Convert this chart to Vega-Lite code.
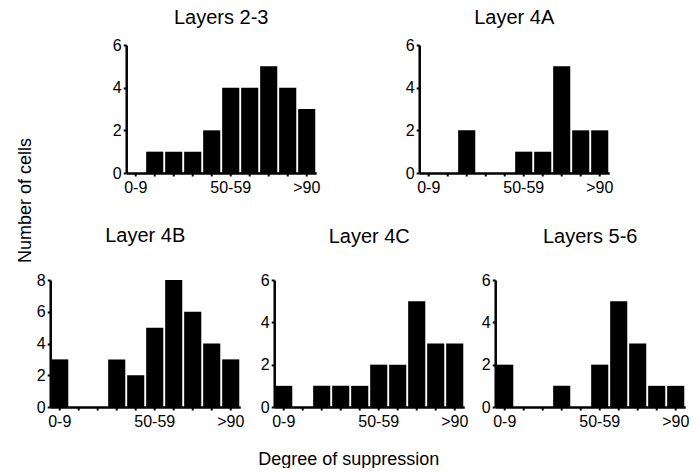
{
  "$schema": "https://vega.github.io/schema/vega-lite/v6.json",
  "padding": {"left": 8, "top": 8, "right": 0, "bottom": 0},
  "background": "white",
  "config": {
    "font": "Liberation Sans",
    "view": {"stroke": null},
    "axis": {"grid": false, "minExtent": 0, "domainColor": "black", "domainWidth": 2.5, "tickColor": "black", "tickWidth": 2, "tickSize": 3, "labelColor": "black", "labelFontSize": 16, "labelFont": "Liberation Sans", "titleFontSize": 18, "titleColor": "black", "titleFontWeight": "normal", "titleFont": "Liberation Sans", "labelPadding": 2},
    "axisX": {"labelAngle": 0, "labelPadding": 3},
    "title": {"fontSize": 20, "fontWeight": "normal", "color": "black", "font": "Liberation Sans"},
    "bar": {"color": "black"}
  },
  "data": {"values": [
    {"panel": "Layers 2-3", "bin": "0-9", "count": 0},
    {"panel": "Layers 2-3", "bin": "10-19", "count": 1},
    {"panel": "Layers 2-3", "bin": "20-29", "count": 1},
    {"panel": "Layers 2-3", "bin": "30-39", "count": 1},
    {"panel": "Layers 2-3", "bin": "40-49", "count": 2},
    {"panel": "Layers 2-3", "bin": "50-59", "count": 4},
    {"panel": "Layers 2-3", "bin": "60-69", "count": 4},
    {"panel": "Layers 2-3", "bin": "70-79", "count": 5},
    {"panel": "Layers 2-3", "bin": "80-89", "count": 4},
    {"panel": "Layers 2-3", "bin": ">90", "count": 3},
    {"panel": "Layer 4A", "bin": "0-9", "count": 0},
    {"panel": "Layer 4A", "bin": "10-19", "count": 0},
    {"panel": "Layer 4A", "bin": "20-29", "count": 2},
    {"panel": "Layer 4A", "bin": "30-39", "count": 0},
    {"panel": "Layer 4A", "bin": "40-49", "count": 0},
    {"panel": "Layer 4A", "bin": "50-59", "count": 1},
    {"panel": "Layer 4A", "bin": "60-69", "count": 1},
    {"panel": "Layer 4A", "bin": "70-79", "count": 5},
    {"panel": "Layer 4A", "bin": "80-89", "count": 2},
    {"panel": "Layer 4A", "bin": ">90", "count": 2},
    {"panel": "Layer 4B", "bin": "0-9", "count": 3},
    {"panel": "Layer 4B", "bin": "10-19", "count": 0},
    {"panel": "Layer 4B", "bin": "20-29", "count": 0},
    {"panel": "Layer 4B", "bin": "30-39", "count": 3},
    {"panel": "Layer 4B", "bin": "40-49", "count": 2},
    {"panel": "Layer 4B", "bin": "50-59", "count": 5},
    {"panel": "Layer 4B", "bin": "60-69", "count": 8},
    {"panel": "Layer 4B", "bin": "70-79", "count": 6},
    {"panel": "Layer 4B", "bin": "80-89", "count": 4},
    {"panel": "Layer 4B", "bin": ">90", "count": 3},
    {"panel": "Layer 4C", "bin": "0-9", "count": 1},
    {"panel": "Layer 4C", "bin": "10-19", "count": 0},
    {"panel": "Layer 4C", "bin": "20-29", "count": 1},
    {"panel": "Layer 4C", "bin": "30-39", "count": 1},
    {"panel": "Layer 4C", "bin": "40-49", "count": 1},
    {"panel": "Layer 4C", "bin": "50-59", "count": 2},
    {"panel": "Layer 4C", "bin": "60-69", "count": 2},
    {"panel": "Layer 4C", "bin": "70-79", "count": 5},
    {"panel": "Layer 4C", "bin": "80-89", "count": 3},
    {"panel": "Layer 4C", "bin": ">90", "count": 3},
    {"panel": "Layers 5-6", "bin": "0-9", "count": 2},
    {"panel": "Layers 5-6", "bin": "10-19", "count": 0},
    {"panel": "Layers 5-6", "bin": "20-29", "count": 0},
    {"panel": "Layers 5-6", "bin": "30-39", "count": 1},
    {"panel": "Layers 5-6", "bin": "40-49", "count": 0},
    {"panel": "Layers 5-6", "bin": "50-59", "count": 2},
    {"panel": "Layers 5-6", "bin": "60-69", "count": 5},
    {"panel": "Layers 5-6", "bin": "70-79", "count": 3},
    {"panel": "Layers 5-6", "bin": "80-89", "count": 1},
    {"panel": "Layers 5-6", "bin": ">90", "count": 1}
  ]},
  "center": true,
  "spacing": -58,
  "vconcat": [
    {
      "bounds": "full",
      "spacing": 85,
      "hconcat": [
        {
          "title": {"text": "Layers 2-3", "offset": 9},
          "width": 190, "height": 128,
          "transform": [{"filter": "datum.panel === 'Layers 2-3'"}],
          "mark": {"type": "bar", "color": "black"},
          "encoding": {
            "x": {"field": "bin", "type": "ordinal", "sort": ["0-9","10-19","20-29","30-39","40-49","50-59","60-69","70-79","80-89",">90"], "scale": {"paddingInner": 0.1, "paddingOuter": 0.05}, "axis": {"title": null, "labelExpr": "indexof(['0-9','50-59','>90'], datum.value) >= 0 ? datum.value : ''"}},
            "y": {"field": "count", "type": "quantitative", "scale": {"domain": [0, 6]}, "axis": {"title": null, "values": [0, 2, 4, 6]}}
          }
        },
        {
          "title": {"text": "Layer 4A", "offset": 9},
          "width": 190, "height": 128,
          "transform": [{"filter": "datum.panel === 'Layer 4A'"}],
          "mark": {"type": "bar", "color": "black"},
          "encoding": {
            "x": {"field": "bin", "type": "ordinal", "sort": ["0-9","10-19","20-29","30-39","40-49","50-59","60-69","70-79","80-89",">90"], "scale": {"paddingInner": 0.1, "paddingOuter": 0.05}, "axis": {"title": null, "labelExpr": "indexof(['0-9','50-59','>90'], datum.value) >= 0 ? datum.value : ''"}},
            "y": {"field": "count", "type": "quantitative", "scale": {"domain": [0, 6]}, "axis": {"title": null, "values": [0, 2, 4, 6]}}
          }
        }
      ]
    },
    {
      "bounds": "full",
      "spacing": 13,
      "hconcat": [
        {
          "title": {"text": "Layer 4B", "offset": 25, "dy": 134},
          "width": 190, "height": 127,
          "transform": [{"filter": "datum.panel === 'Layer 4B'"}],
          "mark": {"type": "bar", "color": "black"},
          "encoding": {
            "x": {"field": "bin", "type": "ordinal", "sort": ["0-9","10-19","20-29","30-39","40-49","50-59","60-69","70-79","80-89",">90"], "scale": {"paddingInner": 0.1, "paddingOuter": 0.05}, "axis": {"title": null, "labelExpr": "indexof(['0-9','50-59','>90'], datum.value) >= 0 ? datum.value : ''"}},
            "y": {"field": "count", "type": "quantitative", "scale": {"domain": [0, 8]}, "axis": {"title": "Number of cells", "minExtent": 42, "values": [0, 2, 4, 6, 8], "titleX": -25, "titleY": -80, "titleAngle": -90, "titleAlign": "center", "titleBaseline": "middle"}}
          }
        },
        {
          "title": {"text": "Layer 4C", "offset": 25},
          "width": 190, "height": 127,
          "transform": [{"filter": "datum.panel === 'Layer 4C'"}],
          "mark": {"type": "bar", "color": "black"},
          "encoding": {
            "x": {"field": "bin", "type": "ordinal", "sort": ["0-9","10-19","20-29","30-39","40-49","50-59","60-69","70-79","80-89",">90"], "scale": {"paddingInner": 0.1, "paddingOuter": 0.05}, "axis": {"title": "Degree of suppression", "titleX": 74, "titlePadding": 21, "labelExpr": "indexof(['0-9','50-59','>90'], datum.value) >= 0 ? datum.value : ''"}},
            "y": {"field": "count", "type": "quantitative", "scale": {"domain": [0, 6]}, "axis": {"title": null, "values": [0, 2, 4, 6]}}
          }
        },
        {
          "title": {"text": "Layers 5-6", "offset": 25},
          "width": 190, "height": 127,
          "transform": [{"filter": "datum.panel === 'Layers 5-6'"}],
          "mark": {"type": "bar", "color": "black"},
          "encoding": {
            "x": {"field": "bin", "type": "ordinal", "sort": ["0-9","10-19","20-29","30-39","40-49","50-59","60-69","70-79","80-89",">90"], "scale": {"paddingInner": 0.1, "paddingOuter": 0.05}, "axis": {"title": null, "labelExpr": "indexof(['0-9','50-59','>90'], datum.value) >= 0 ? datum.value : ''"}},
            "y": {"field": "count", "type": "quantitative", "scale": {"domain": [0, 6]}, "axis": {"title": null, "values": [0, 2, 4, 6]}}
          }
        }
      ]
    }
  ]
}
